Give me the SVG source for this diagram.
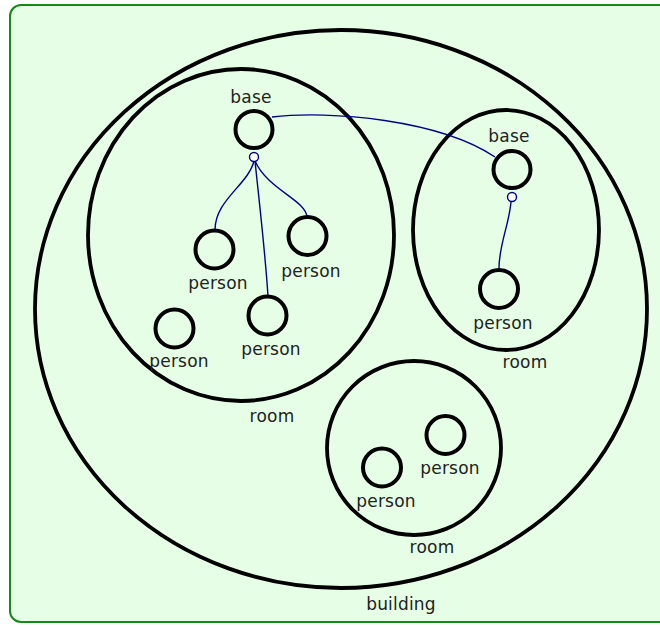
<svg xmlns="http://www.w3.org/2000/svg" width="660" height="625" viewBox="0 0 660 625">
<style>
.frame{fill:#e5fee5;stroke:#168a16;stroke-width:2}
.n{fill:none;stroke:#000;stroke-width:4}
.g{fill:none;stroke:#000;stroke-width:3.8}
.e{fill:none;stroke:#00008b;stroke-width:1.4}
.k{fill:#fff;stroke:#00008b;stroke-width:1.4}
text{font-family:"DejaVu Sans",sans-serif;font-size:17px;fill:#222;text-anchor:middle;letter-spacing:0.2px}
</style>
<rect class="frame" x="10" y="5" width="670" height="617" rx="11"/>
<g id="building"><ellipse class="g" cx="341" cy="309" rx="306" ry="279"/><text x="401" y="610">building</text></g>
<g id="room1"><ellipse class="g" cx="241" cy="235" rx="153" ry="166"/><text x="272" y="422">room</text></g>
<g id="room2"><ellipse class="g" cx="506" cy="230" rx="93" ry="120"/><text x="525" y="368">room</text></g>
<g id="room3"><circle class="g" cx="414" cy="448" r="87"/><text x="432" y="553">room</text></g>
<g id="connectors">
<path class="e" d="M272,117 C330,110 440,120 495,157"/>
<path class="e" d="M254,161 C248,185 215,200 215,230"/>
<path class="e" d="M255,161 C268,190 306,200 307,217"/>
<path class="e" d="M255,161 C259,200 265,250 268,296"/>
<path class="e" d="M511,202 C509,225 499,245 499,268"/>
<circle class="k" cx="254" cy="157" r="4.5"/>
<circle class="k" cx="512" cy="197" r="4.5"/>
</g>
<g id="base1"><circle class="n" cx="254" cy="129.5" r="18.5"/><text x="251" y="103">base</text></g>
<g id="base2"><circle class="n" cx="512" cy="169.5" r="18.5"/><text x="509" y="142">base</text></g>
<g id="person1"><circle class="n" cx="214.5" cy="249.5" r="19"/><text x="218" y="289">person</text></g>
<g id="person2"><circle class="n" cx="307.5" cy="236" r="19"/><text x="311" y="277">person</text></g>
<g id="person3"><circle class="n" cx="267.5" cy="315.5" r="19"/><text x="271" y="355">person</text></g>
<g id="person4"><circle class="n" cx="174.5" cy="328.5" r="19"/><text x="179" y="367">person</text></g>
<g id="person5"><circle class="n" cx="499" cy="289" r="19"/><text x="503" y="329">person</text></g>
<g id="person6"><circle class="n" cx="382" cy="467.5" r="19"/><text x="386" y="507">person</text></g>
<g id="person7"><circle class="n" cx="445.5" cy="435" r="19"/><text x="450" y="474">person</text></g>
</svg>
